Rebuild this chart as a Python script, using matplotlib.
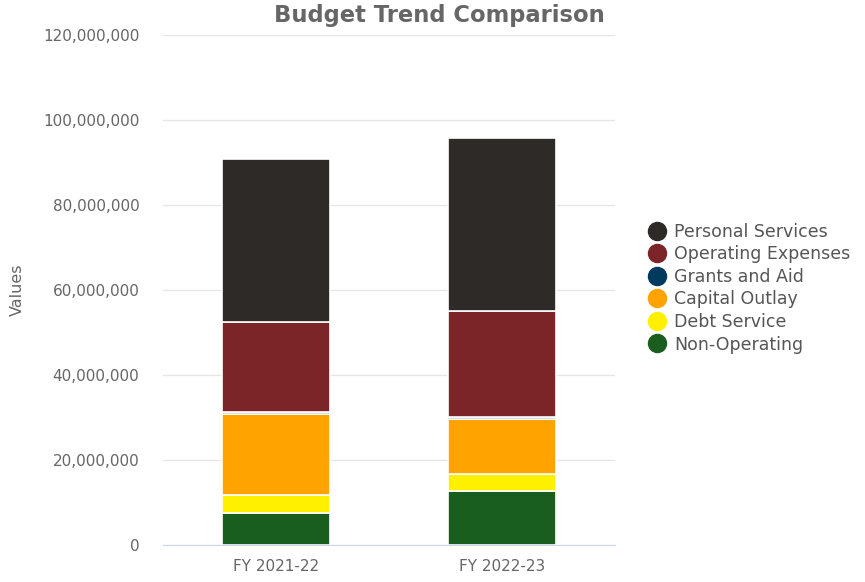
import matplotlib.pyplot as plt
import numpy as np
from matplotlib.ticker import FuncFormatter
from matplotlib.lines import Line2D

plt.rcParams['font.family'] = ['DejaVu Sans']

years = ['FY 2021-22', 'FY 2022-23']
categories = ['Non-Operating', 'Debt Service', 'Capital Outlay',
              'Grants and Aid', 'Operating Expenses', 'Personal Services']
colors = ['#1a5e1f', '#fff000', '#ffa300', '#003a5d', '#7b2528', '#2e2a27']

# budget amounts per category, one value per fiscal year
non_operating = [7500000, 12800000]
debt_service = [4300000, 3800000]
capital_outlay = [19000000, 13000000]
grants_and_aid = [600000, 600000]
operating_expenses = [21000000, 24900000]
personal_services = [38350000, 40700000]

series = [non_operating, debt_service, capital_outlay,
          grants_and_aid, operating_expenses, personal_services]

fig = plt.figure(figsize=(8.65, 5.82), dpi=100)
ax = fig.add_axes([163 / 865, 37 / 582, 452 / 865, 510 / 582])

x = np.arange(len(years))
bottom = np.zeros(len(years))
for vals, col in zip(series, colors):
    ax.bar(x, vals, width=0.48, bottom=bottom, color=col,
           edgecolor='white', linewidth=1.2, zorder=3)
    bottom += np.array(vals)

ax.set_xlim(-0.5, 1.5)
ax.set_ylim(0, 120000000)
ax.set_yticks(np.arange(0, 120000001, 20000000))
ax.yaxis.set_major_formatter(FuncFormatter(lambda v, p: f'{int(v):,}'))
ax.set_xticks(x)
ax.set_xticklabels(years)
ax.grid(axis='y', color='#e6e6e6', linewidth=1, zorder=0)
for s in ['top', 'right', 'left']:
    ax.spines[s].set_visible(False)
ax.spines['bottom'].set_color('#ccd6eb')
ax.tick_params(axis='both', length=0, labelsize=11, colors='#666666')
ax.tick_params(axis='y', pad=17)
ax.tick_params(axis='x', pad=10)
ax.set_ylabel('Values', fontsize=11.5, color='#666666', labelpad=13)

fig.text(0.508, 0.973, 'Budget Trend Comparison', ha='center', va='center',
         fontsize=16.3, fontweight='bold', color='#666666')

handles = [Line2D([], [], marker='o', linestyle='none', markersize=13,
                  markerfacecolor=c, markeredgecolor=c)
           for c in colors[::-1]]
fig.legend(handles, categories[::-1], loc='upper left',
           bbox_to_anchor=(641 / 865, 1 - 216 / 582), frameon=False,
           fontsize=12.5, labelcolor='#555555', handletextpad=0.4,
           labelspacing=0.26, borderaxespad=0, handlelength=1.1)

fig.savefig('out.png', dpi=100)
